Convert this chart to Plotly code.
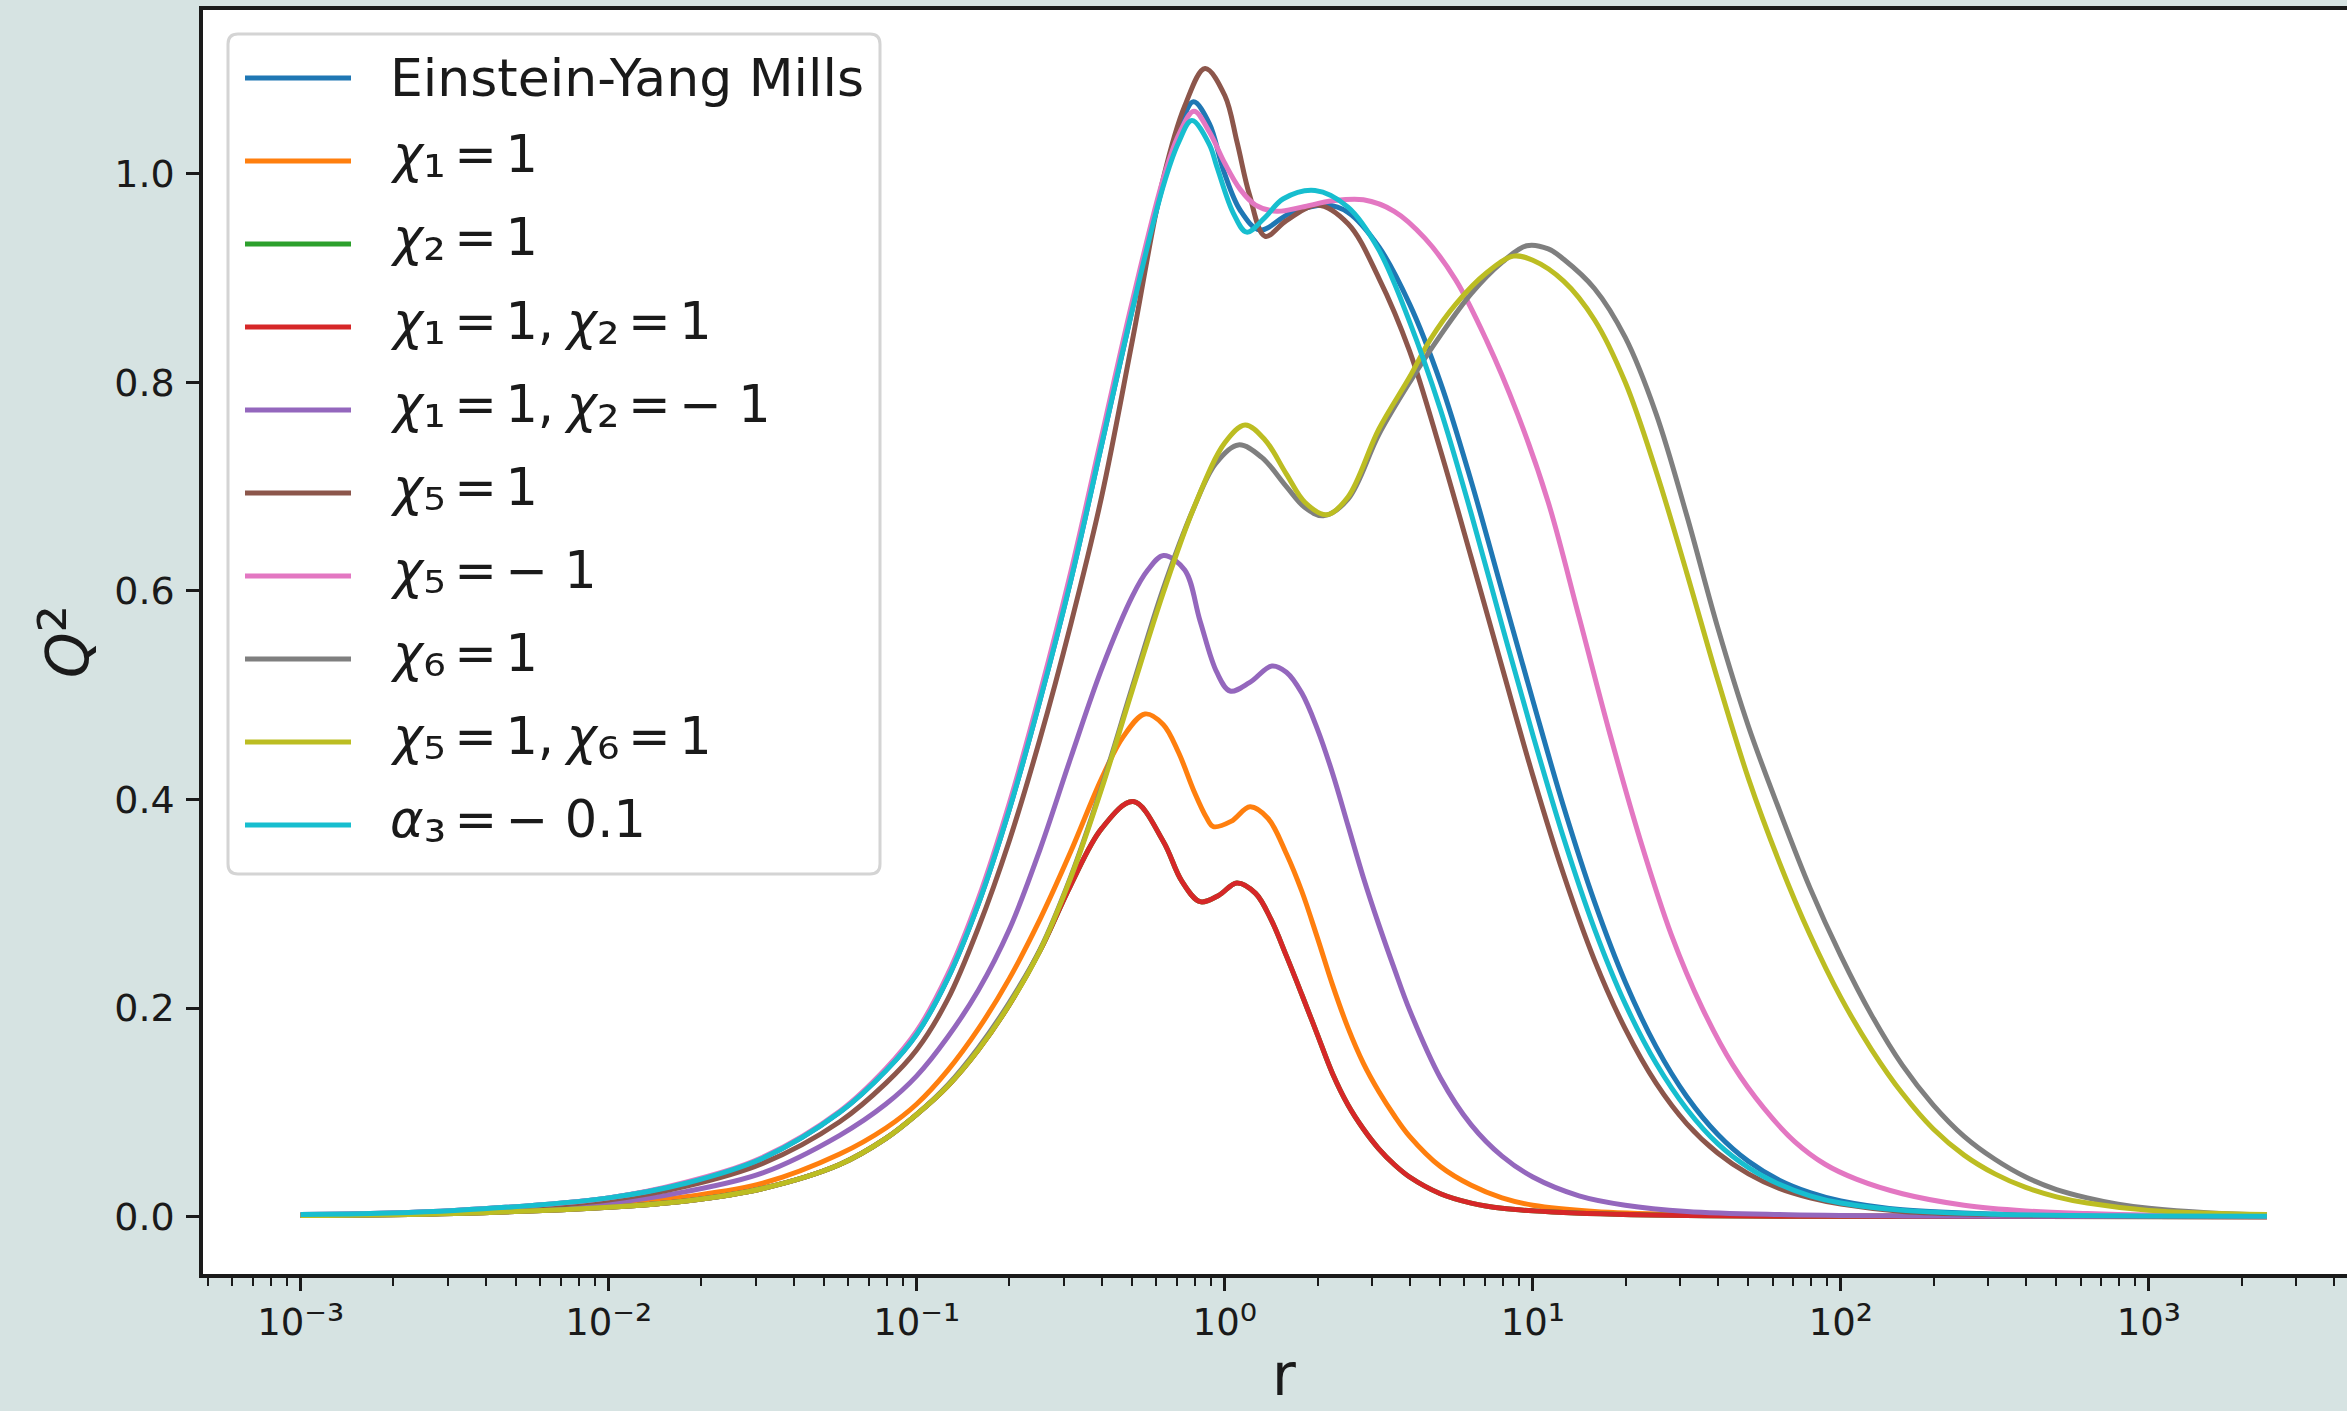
import plotly.graph_objects as go

# ---------------------------------------------------------------------------
# Q^2(r) profiles; radii given as log10(r), values as Q^2
# ---------------------------------------------------------------------------
eym_logr = [-3.0, -2.5, -2.0, -1.75, -1.5, -1.25, -1.1, -1.0, -0.9, -0.8, -0.7, -0.6, -0.5,
            -0.4, -0.3, -0.2, -0.15, -0.102, -0.05, -0.004, 0.05, 0.114, 0.212, 0.33, 0.4,
            0.5, 0.6, 0.7, 0.8, 0.9, 1.0, 1.1, 1.2, 1.3, 1.4, 1.5, 1.6, 1.7, 1.8, 1.9, 2.0,
            2.2, 2.5, 3.0, 3.383]
eym_q = [0.002, 0.006, 0.018, 0.032, 0.056, 0.1, 0.14, 0.175, 0.228, 0.30, 0.39, 0.495, 0.61,
         0.74, 0.87, 0.99, 1.04, 1.069, 1.048, 1.003, 0.965, 0.946, 0.962, 0.970, 0.963,
         0.930, 0.875, 0.800, 0.705, 0.600, 0.495, 0.393, 0.302, 0.225, 0.163, 0.115, 0.079,
         0.053, 0.035, 0.023, 0.015, 0.0065, 0.0025, 0.0008, 0.0004]

chi1_logr = [-3.0, -2.5, -2.0, -1.75, -1.5, -1.25, -1.1, -1.0, -0.9, -0.8, -0.7, -0.6, -0.5,
             -0.4, -0.33, -0.259, -0.2, -0.15, -0.1, -0.06, -0.037, 0.02, 0.082, 0.14, 0.2,
             0.25, 0.3, 0.35, 0.4, 0.45, 0.5, 0.55, 0.6, 0.7, 0.8, 0.9, 1.0, 1.2, 1.5, 2.0, 3.383]
chi1_q = [0.001, 0.004, 0.011, 0.019, 0.032, 0.06, 0.085, 0.108, 0.14, 0.18, 0.228, 0.285, 0.35,
          0.42, 0.46, 0.482, 0.472, 0.445, 0.408, 0.383, 0.374, 0.379, 0.393, 0.382, 0.348,
          0.312, 0.268, 0.222, 0.181, 0.147, 0.12, 0.097, 0.077, 0.048, 0.03, 0.018, 0.011,
          0.005, 0.002, 0.0005, 0.0]

chi1_chi2_logr = [-3.0, -2.5, -2.0, -1.75, -1.5, -1.25, -1.1, -1.0, -0.9, -0.8, -0.7, -0.6, -0.5,
                  -0.4, -0.297, -0.2, -0.14, -0.08, -0.02, 0.039, 0.1, 0.15, 0.2, 0.25, 0.3,
                  0.35, 0.4, 0.45, 0.5, 0.55, 0.6, 0.7, 0.8, 0.9, 1.1, 1.5, 2.0, 3.383]
chi1_chi2_q = [0.001, 0.003, 0.009, 0.015, 0.027, 0.05, 0.075, 0.098, 0.125, 0.16, 0.203, 0.255, 0.318,
               0.372, 0.398, 0.36, 0.322, 0.302, 0.308, 0.32, 0.31, 0.285, 0.25, 0.213, 0.175,
               0.137, 0.107, 0.084, 0.065, 0.05, 0.038, 0.022, 0.013, 0.008, 0.004, 0.001, 0.0004, 0.0]

# chi_2 = 1 on its own coincides with the chi_1 = 1, chi_2 = 1 profile
chi2_logr = [-3.0, -2.5, -2.0, -1.75, -1.5, -1.25, -1.1, -1.0, -0.9, -0.8, -0.7, -0.6, -0.5,
             -0.4, -0.297, -0.2, -0.14, -0.08, -0.02, 0.039, 0.1, 0.15, 0.2, 0.25, 0.3,
             0.35, 0.4, 0.45, 0.5, 0.55, 0.6, 0.7, 0.8, 0.9, 1.1, 1.5, 2.0, 3.383]
chi2_q = [0.001, 0.003, 0.009, 0.015, 0.027, 0.05, 0.075, 0.098, 0.125, 0.16, 0.203, 0.255, 0.318,
          0.372, 0.398, 0.36, 0.322, 0.302, 0.308, 0.32, 0.31, 0.285, 0.25, 0.213, 0.175,
          0.137, 0.107, 0.084, 0.065, 0.05, 0.038, 0.022, 0.013, 0.008, 0.004, 0.001, 0.0004, 0.0]

chi1_chi2m_logr = [-3.0, -2.5, -2.0, -1.75, -1.5, -1.25, -1.1, -1.0, -0.9, -0.8, -0.7, -0.6, -0.5,
                   -0.4, -0.3, -0.25, -0.199, -0.13, -0.08, -0.026, 0.017, 0.08, 0.153, 0.2, 0.25,
                   0.3, 0.35, 0.4, 0.45, 0.5, 0.55, 0.6, 0.7, 0.8, 0.9, 1.0, 1.15, 1.3, 1.5, 1.8,
                   2.2, 3.383]
chi1_chi2m_q = [0.0015, 0.005, 0.013, 0.024, 0.042, 0.078, 0.108, 0.135, 0.172, 0.217, 0.275, 0.352, 0.44,
                0.525, 0.595, 0.62, 0.634, 0.62, 0.571, 0.522, 0.504, 0.512, 0.528, 0.522, 0.502,
                0.468, 0.425, 0.375, 0.325, 0.28, 0.238, 0.198, 0.133, 0.088, 0.058, 0.038, 0.02,
                0.011, 0.005, 0.002, 0.0007, 0.0]

chi5_logr = [-3.0, -2.5, -2.0, -1.75, -1.5, -1.25, -1.1, -1.0, -0.9, -0.8, -0.7, -0.6, -0.5,
             -0.4, -0.3, -0.2, -0.13, -0.064, 0.0, 0.04, 0.08, 0.131, 0.2, 0.3, 0.4, 0.5, 0.6,
             0.7, 0.8, 0.9, 1.0, 1.1, 1.2, 1.3, 1.4, 1.5, 1.6, 1.7, 1.8, 1.9, 2.0, 2.2, 2.5,
             3.0, 3.383]
chi5_q = [0.0015, 0.005, 0.016, 0.029, 0.051, 0.091, 0.128, 0.16, 0.208, 0.277, 0.36, 0.458, 0.568,
          0.69, 0.84, 0.995, 1.065, 1.101, 1.075, 1.03, 0.98, 0.94, 0.955, 0.970, 0.952, 0.90,
          0.83, 0.735, 0.632, 0.527, 0.423, 0.328, 0.246, 0.18, 0.128, 0.089, 0.061, 0.041,
          0.027, 0.018, 0.012, 0.005, 0.002, 0.0007, 0.0003]

chi5m_logr = [-3.0, -2.5, -2.0, -1.75, -1.5, -1.25, -1.1, -1.0, -0.9, -0.8, -0.7, -0.6, -0.5,
              -0.4, -0.3, -0.2, -0.15, -0.1, -0.05, 0.0, 0.05, 0.1, 0.169, 0.25, 0.35, 0.45,
              0.55, 0.65, 0.75, 0.85, 0.95, 1.05, 1.15, 1.25, 1.35, 1.45, 1.55, 1.65, 1.75, 1.85,
              1.95, 2.05, 2.2, 2.4, 2.6, 2.8, 3.0, 3.383]
chi5m_q = [0.002, 0.006, 0.018, 0.033, 0.057, 0.101, 0.142, 0.178, 0.232, 0.305, 0.396, 0.502, 0.618,
           0.748, 0.878, 0.995, 1.037, 1.06, 1.04, 1.01, 0.985, 0.97, 0.964, 0.968, 0.974, 0.975,
           0.964, 0.938, 0.898, 0.84, 0.77, 0.685, 0.575, 0.463, 0.36, 0.27, 0.2, 0.145, 0.104,
           0.072, 0.05, 0.036, 0.022, 0.011, 0.0055, 0.003, 0.0015, 0.0006]

chi6_logr = [-3.0, -2.5, -2.0, -1.75, -1.5, -1.25, -1.1, -1.0, -0.9, -0.8, -0.7, -0.6, -0.5,
             -0.4, -0.3, -0.2, -0.1, -0.03, 0.044, 0.12, 0.2, 0.26, 0.32, 0.4, 0.5, 0.6, 0.7,
             0.8, 0.9, 0.98, 1.05, 1.1, 1.2, 1.3, 1.4, 1.5, 1.6, 1.7, 1.8, 1.9, 2.0, 2.1, 2.2,
             2.3, 2.4, 2.5, 2.6, 2.7, 2.8, 2.9, 3.0, 3.2, 3.383]
chi6_q = [0.001, 0.003, 0.009, 0.015, 0.027, 0.05, 0.075, 0.098, 0.126, 0.162, 0.205, 0.256, 0.326,
          0.412, 0.508, 0.602, 0.68, 0.722, 0.740, 0.728, 0.70, 0.68, 0.672, 0.688, 0.75, 0.80,
          0.845, 0.885, 0.915, 0.931, 0.928, 0.918, 0.89, 0.843, 0.77, 0.672, 0.565, 0.47, 0.39,
          0.315, 0.25, 0.193, 0.145, 0.107, 0.077, 0.055, 0.038, 0.026, 0.018, 0.012, 0.008,
          0.0035, 0.0015]

chi5_chi6_logr = [-3.0, -2.5, -2.0, -1.75, -1.5, -1.25, -1.1, -1.0, -0.9, -0.8, -0.7, -0.6, -0.5,
                  -0.4, -0.3, -0.2, -0.1, 0.0, 0.066, 0.13, 0.2, 0.26, 0.331, 0.4, 0.5, 0.6, 0.667,
                  0.75, 0.85, 0.937, 1.0, 1.1, 1.2, 1.3, 1.4, 1.5, 1.6, 1.7, 1.8, 1.9, 2.0, 2.1,
                  2.2, 2.3, 2.4, 2.5, 2.6, 2.7, 2.8, 3.0, 3.383]
chi5_chi6_q = [0.001, 0.003, 0.009, 0.015, 0.027, 0.05, 0.075, 0.098, 0.125, 0.16, 0.203, 0.255, 0.325,
               0.41, 0.505, 0.598, 0.68, 0.742, 0.759, 0.745, 0.712, 0.685, 0.673, 0.69, 0.755,
               0.805, 0.841, 0.875, 0.905, 0.921, 0.917, 0.897, 0.86, 0.80, 0.715, 0.617, 0.515,
               0.42, 0.34, 0.27, 0.21, 0.16, 0.118, 0.084, 0.059, 0.041, 0.028, 0.019, 0.013,
               0.006, 0.002]

alpha3_logr = [-3.0, -2.5, -2.0, -1.75, -1.5, -1.25, -1.1, -1.0, -0.9, -0.8, -0.7, -0.6, -0.5,
               -0.4, -0.3, -0.2, -0.15, -0.107, -0.05, -0.026, 0.028, 0.071, 0.13, 0.19, 0.293,
               0.4, 0.5, 0.6, 0.7, 0.8, 0.9, 1.0, 1.1, 1.2, 1.3, 1.4, 1.5, 1.6, 1.7, 1.8, 1.9,
               2.0, 2.2, 2.5, 3.0, 3.383]
alpha3_q = [0.002, 0.006, 0.018, 0.032, 0.056, 0.1, 0.14, 0.175, 0.228, 0.30, 0.39, 0.495, 0.61,
            0.74, 0.87, 0.988, 1.03, 1.051, 1.028, 1.007, 0.962, 0.944, 0.958, 0.976, 0.984,
            0.968, 0.927, 0.858, 0.774, 0.674, 0.567, 0.462, 0.363, 0.276, 0.204, 0.147, 0.103,
            0.07, 0.047, 0.031, 0.02, 0.013, 0.006, 0.0023, 0.0007, 0.0003]


def sub(d):
    # enlarged, slightly lowered subscript digit glyph
    return f"<span style='font-size:56px;baseline-shift:-5px'>{d}</span>"


EQ = "\u2006=\u2006"
SEP = ",\u2005"
series_names = [
    "Einstein-Yang Mills",
    f"<i>χ</i>{sub('₁')}{EQ}1",
    f"<i>χ</i>{sub('₂')}{EQ}1",
    f"<i>χ</i>{sub('₁')}{EQ}1{SEP}<i>χ</i>{sub('₂')}{EQ}1",
    f"<i>χ</i>{sub('₁')}{EQ}1{SEP}<i>χ</i>{sub('₂')}{EQ}− 1",
    f"<i>χ</i>{sub('₅')}{EQ}1",
    f"<i>χ</i>{sub('₅')}{EQ}− 1",
    f"<i>χ</i>{sub('₆')}{EQ}1",
    f"<i>χ</i>{sub('₅')}{EQ}1{SEP}<i>χ</i>{sub('₆')}{EQ}1",
    f"<i>α</i>{sub('₃')}{EQ}− 0.1",
]
series_data = [
    (eym_logr, eym_q),
    (chi1_logr, chi1_q),
    (chi2_logr, chi2_q),
    (chi1_chi2_logr, chi1_chi2_q),
    (chi1_chi2m_logr, chi1_chi2m_q),
    (chi5_logr, chi5_q),
    (chi5m_logr, chi5m_q),
    (chi6_logr, chi6_q),
    (chi5_chi6_logr, chi5_chi6_q),
    (alpha3_logr, alpha3_q),
]
colors = ["#1f77b4", "#ff7f0e", "#2ca02c", "#d62728", "#9467bd",
          "#8c564b", "#e377c2", "#7f7f7f", "#bcbd22", "#17becf"]


def sup(s):
    # enlarged superscript glyphs for the decade labels
    return f"10<span style='font-size:43px'>{s}</span>"


x_major = [1e-3, 1e-2, 1e-1, 1e0, 1e1, 1e2, 1e3]
x_major_text = [sup("⁻³"), sup("⁻²"), sup("⁻¹"), sup("⁰"), sup("¹"), sup("²"), sup("³")]
y_ticks = [0.0, 0.2, 0.4, 0.6, 0.8, 1.0]
y_tick_text = ["0.0", "0.2", "0.4", "0.6", "0.8", "1.0"]

# ---------------------------------------------------------------------------
W, H = 2347, 1411
L, R, T, B = 203, 0, 10, 137
PW, PH = W - L - R, H - T - B
FONT = "DejaVu Sans"
INK = "#1a1a1a"


def px(xp):
    return (xp - L) / PW


def py(yp):
    return (H - B - yp) / PH


fig = go.Figure()
for (lr, q), name, col in zip(series_data, series_names, colors):
    fig.add_trace(go.Scatter(
        x=[10 ** v for v in lr], y=q, mode="lines", name=name,
        line=dict(color=col, width=5, shape="spline", smoothing=1.0),
        showlegend=False, hoverinfo="skip",
    ))

minor_vals = [m * 10 ** e for e in range(-4, 4) for m in range(2, 10)
              if 10 ** -3.317 < m * 10 ** e < 10 ** 3.643]

fig.update_xaxes(
    type="log", range=[-3.317, 3.643],
    showline=True, linecolor=INK, linewidth=3.5, mirror=True,
    ticks="outside", ticklen=13, tickwidth=3, tickcolor=INK,
    tickmode="array", tickvals=x_major, ticktext=x_major_text,
    tickfont=dict(family=FONT, size=37, color=INK),
    minor=dict(tickmode="array", tickvals=minor_vals, ticks="outside",
               ticklen=8, tickwidth=2, tickcolor=INK, showgrid=False),
    showgrid=False, zeroline=False,
)
fig.update_yaxes(
    range=[-0.055, 1.157],
    showline=True, linecolor=INK, linewidth=3.5,
    ticks="outside", ticklen=13, tickwidth=3, tickcolor=INK,
    tickmode="array", tickvals=y_ticks, ticktext=y_tick_text,
    tickfont=dict(family=FONT, size=38, color=INK), ticklabelstandoff=4,
    showgrid=False, zeroline=False,
)

shapes = []
annotations = []

# legend frame with rounded corners
x0, y0, x1, y1, rr = 228, 34, 880, 874, 10
frame = (f"M {px(x0 + rr)} {py(y0)} L {px(x1 - rr)} {py(y0)} Q {px(x1)} {py(y0)} {px(x1)} {py(y0 + rr)} "
         f"L {px(x1)} {py(y1 - rr)} Q {px(x1)} {py(y1)} {px(x1 - rr)} {py(y1)} "
         f"L {px(x0 + rr)} {py(y1)} Q {px(x0)} {py(y1)} {px(x0)} {py(y1 - rr)} "
         f"L {px(x0)} {py(y0 + rr)} Q {px(x0)} {py(y0)} {px(x0 + rr)} {py(y0)} Z")
shapes.append(dict(type="path", path=frame, xref="paper", yref="paper",
                   line=dict(color="#d4d4d4", width=3), fillcolor="white", layer="above"))

row0, row_step = 78, 83.0
for i, (name, col) in enumerate(zip(series_names, colors)):
    yc = row0 + i * row_step
    shapes.append(dict(type="line", xref="paper", yref="paper",
                       x0=px(245), x1=px(351), y0=py(yc), y1=py(yc),
                       line=dict(color=col, width=5), layer="above"))
    annotations.append(dict(text=name, xref="paper", yref="paper",
                            x=px(388), y=py(yc if i == 0 else yc - 3),
                            xanchor="left", yanchor="middle", showarrow=False,
                            font=dict(family=FONT, size=52 if i == 0 else 51, color=INK)))

# axis titles
annotations.append(dict(text="<i>Q</i><span style='font-size:68px'>²</span>",
                        xref="paper", yref="paper",
                        x=px(64), y=py(642), xanchor="center", yanchor="middle",
                        textangle=-90, showarrow=False,
                        font=dict(family=FONT, size=58, color=INK)))
annotations.append(dict(text="r", xref="paper", yref="paper",
                        x=px(1284), y=py(1411), xanchor="center", yanchor="bottom",
                        showarrow=False, font=dict(family=FONT, size=58, color=INK)))

fig.update_layout(
    width=W, height=H,
    margin=dict(l=L, r=R, t=T, b=B, pad=0),
    paper_bgcolor="#d6e3e2", plot_bgcolor="white",
    shapes=shapes, annotations=annotations,
    showlegend=False,
)

fig.write_html("out.html")
